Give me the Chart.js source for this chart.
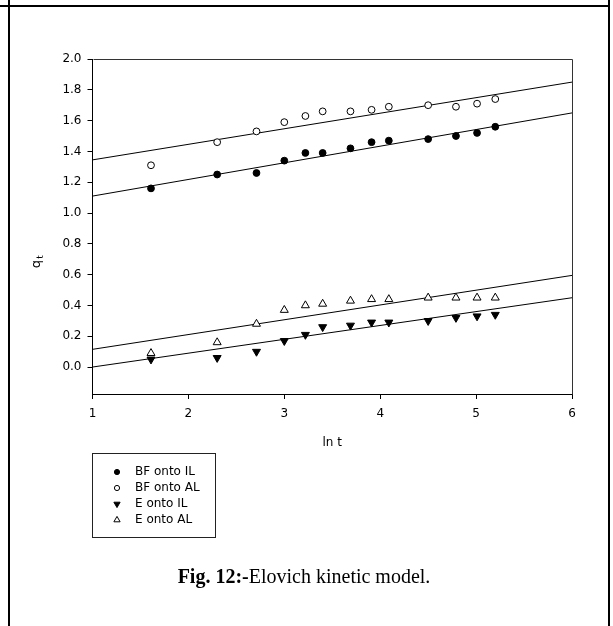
<!DOCTYPE html>
<html>
<head>
<meta charset="utf-8">
<title>Elovich kinetic model</title>
<script src="https://cdn.jsdelivr.net/npm/chart.js@4/dist/chart.umd.min.js"></script>
<style>
  html, body { margin: 0; padding: 0; background: #fff; }
  #wrap { position: relative; width: 613px; height: 626px; overflow: hidden; background: #fff; }
  #myChart { position: absolute; left: 0; top: 0; }
  .rule { position: absolute; background: #000; }
  #caption {
    position: absolute; left: 0; top: 566px; width: 608px;
    text-align: center; white-space: nowrap; color: #000;
    font: 20px/20px "Liberation Serif", "Times New Roman", serif;
  }
</style>
</head>
<body>
<div id="wrap">
  <canvas id="myChart" width="613" height="626"></canvas>
  <div class="rule" style="left:0;top:5px;width:610px;height:2px"></div>
  <div class="rule" style="left:8px;top:0;width:2px;height:626px"></div>
  <div class="rule" style="left:608px;top:0;width:2px;height:626px"></div>
  <div id="caption"><b>Fig. 12:-</b>Elovich kinetic model.</div>
</div>
<script>
// ln t for each sampling time
const lnT = [1.61, 2.30, 2.71, 3.00, 3.22, 3.40, 3.69, 3.91, 4.09, 4.50, 4.79, 5.01, 5.20];

// q_t measured for each system
const bfOntoIL = [1.16, 1.25, 1.26, 1.34, 1.39, 1.39, 1.42, 1.46, 1.47, 1.48, 1.50, 1.52, 1.56];
const bfOntoAL = [1.31, 1.46, 1.53, 1.59, 1.63, 1.66, 1.66, 1.67, 1.69, 1.70, 1.69, 1.71, 1.74];
const eOntoIL = [0.05, 0.06, 0.10, 0.17, 0.21, 0.26, 0.27, 0.29, 0.29, 0.30, 0.32, 0.33, 0.34];
const eOntoAL = [0.09, 0.16, 0.28, 0.37, 0.40, 0.41, 0.43, 0.44, 0.44, 0.45, 0.45, 0.45, 0.45];

// fitted Elovich lines, taken at both ends of the x axis
const fitX = [1, 6];
const fitBFIL = [1.11, 1.65];
const fitBFAL = [1.345, 1.85];
const fitEIL = [0.0, 0.45];
const fitEAL = [0.115, 0.595];

const xTicks = [1, 2, 3, 4, 5, 6];
const yTicks = [0.0, 0.2, 0.4, 0.6, 0.8, 1.0, 1.2, 1.4, 1.6, 1.8, 2.0];

const pts = (xs, ys) => xs.map((x, i) => ({ x: x, y: ys[i] }));

Chart.defaults.font.family = "'DejaVu Sans', Arial, sans-serif";
Chart.defaults.font.size = 12;
Chart.defaults.color = '#000';

const axisFont = { family: "'DejaVu Sans', Arial, sans-serif", size: 12 };

function marker(label, data, style, fill, rot, r) {
  return {
    type: 'scatter', label: label, data: data, order: 0,
    pointStyle: style, rotation: rot, pointRadius: r, pointHoverRadius: r,
    backgroundColor: fill, borderColor: '#000', borderWidth: 1
  };
}

function fitLine(data) {
  return {
    type: 'line', data: data, order: 1, showLine: true,
    borderColor: '#000', borderWidth: 1, pointRadius: 0, fill: false, tension: 0
  };
}

// hand-drawn legend box, plot frame and rotated q_t label
const decor = {
  id: 'decor',
  afterDraw(chart) {
    const ctx = chart.ctx;
    const a = chart.chartArea;
    ctx.save();

    // top and right edges of the plot box
    ctx.strokeStyle = '#333';
    ctx.lineWidth = 1;
    ctx.beginPath();
    ctx.moveTo(Math.round(a.left) + 0.5, Math.round(a.top) + 0.5);
    ctx.lineTo(Math.round(a.right) + 0.5, Math.round(a.top) + 0.5);
    ctx.lineTo(Math.round(a.right) + 0.5, Math.round(a.bottom) + 0.5);
    ctx.stroke();

    // y axis title with subscript
    ctx.fillStyle = '#000';
    ctx.translate(37, 262);
    ctx.rotate(-Math.PI / 2);
    ctx.textBaseline = 'middle';
    ctx.font = "13px 'DejaVu Sans', Arial, sans-serif";
    const qw = ctx.measureText('q').width;
    ctx.textAlign = 'left';
    ctx.fillText('q', -qw / 2 - 2, 0);
    ctx.font = "9px 'DejaVu Sans', Arial, sans-serif";
    ctx.fillText('t', qw / 2 - 1, 4);
    ctx.setTransform(1, 0, 0, 1, 0, 0);

    // legend
    const bx = 92.5, by = 453.5, bw = 123, bh = 84;
    ctx.strokeStyle = '#222';
    ctx.strokeRect(bx, by, bw, bh);
    ctx.font = "12px 'DejaVu Sans', Arial, sans-serif";
    ctx.textAlign = 'left';
    ctx.textBaseline = 'middle';
    const sets = chart.data.datasets.filter(d => d.label);
    sets.forEach((d, i) => {
      const cy = 472 + i * 16;
      const cx = 117;
      ctx.fillStyle = d.backgroundColor;
      ctx.strokeStyle = '#000';
      ctx.lineWidth = 1;
      const r = d.pointStyle === 'circle' ? 2.6 : 3.6;
      Chart.helpers.drawPoint(ctx, {
        pointStyle: d.pointStyle, rotation: d.rotation, radius: r, borderWidth: 1
      }, cx, cy);
      ctx.fillStyle = '#000';
      ctx.fillText(d.label, 135, cy);
    });
    ctx.restore();
  }
};

const ctx = document.getElementById('myChart').getContext('2d');

const myChart = new Chart(ctx, {
  type: 'scatter',
  data: {
    datasets: [
      marker('BF onto IL', pts(lnT, bfOntoIL), 'circle', '#000', 0, 3.4),
      marker('BF onto AL', pts(lnT, bfOntoAL), 'circle', '#fff', 0, 3.4),
      marker('E onto IL', pts(lnT, eOntoIL), 'triangle', '#000', 180, 4.6),
      marker('E onto AL', pts(lnT, eOntoAL), 'triangle', '#fff', 0, 4.6),
      fitLine(pts(fitX, fitBFIL)),
      fitLine(pts(fitX, fitBFAL)),
      fitLine(pts(fitX, fitEIL)),
      fitLine(pts(fitX, fitEAL))
    ]
  },
  options: {
    responsive: false,
    animation: false,
    layout: { padding: { left: 0, top: 59, right: 41, bottom: 176 } },
    plugins: {
      legend: { display: false },
      tooltip: { enabled: false }
    },
    scales: {
      x: {
        type: 'linear',
        min: 1,
        max: 6,
        afterBuildTicks: s => { s.ticks = xTicks.map(v => ({ value: v })); },
        afterFit: s => { s.height = 56; },
        grid: { drawOnChartArea: false, drawTicks: true, tickLength: 5, tickColor: '#000' },
        border: { display: true, color: '#000', width: 1 },
        ticks: { color: '#000', font: axisFont, padding: 8, maxRotation: 0, autoSkip: false },
        title: { display: true, text: 'ln t', color: '#000', font: axisFont, padding: 0 }
      },
      y: {
        type: 'linear',
        min: -0.175,
        max: 2.0,
        afterBuildTicks: s => { s.ticks = yTicks.map(v => ({ value: v })); },
        afterFit: s => { s.width = 92.5; },
        grid: { drawOnChartArea: false, drawTicks: true, tickLength: 5, tickColor: '#000' },
        border: { display: true, color: '#000', width: 1 },
        ticks: {
          color: '#000', font: axisFont, padding: 6, autoSkip: false,
          callback: v => Number(v).toFixed(1)
        }
      }
    }
  },
  plugins: [decor]
});
</script>
</body>
</html>
